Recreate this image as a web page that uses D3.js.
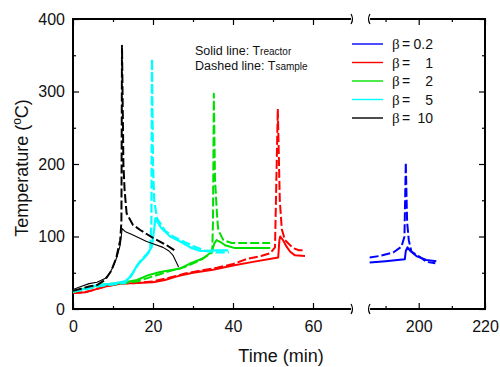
<!DOCTYPE html>
<html>
<head>
<meta charset="utf-8">
<script src="https://cdn.jsdelivr.net/npm/d3@7"></script>
<style>
  body { margin: 0; background: #fff; }
  svg { display: block; font-family: Arial, "Liberation Sans", sans-serif; }
</style>
</head>
<body>
<div id="chart"></div>
<script>
// data: [time (min), temperature (C)]
var b10Reactor = [[0,27],[2,31],[4,35],[6,37],[8,42],[9,48],[10,58],[11,72],[11.8,88],[12.3,111],[13,107],[15,102],[18.4,93],[20,90],[22.5,85],[24,80],[25,74],[26.4,58]];
var b10Sample = [[0,25],[2,28],[4,31],[6,33],[8,40],[9.5,52],[10.8,70],[11.8,95],[12.1,120],[12.25,363],[12.6,200],[12.9,164],[13.4,132],[15,116],[16.8,109],[20,98],[23.4,88],[25.9,79]];
var b5Reactor = [[0,24],[3,28],[6,33],[10,35],[13,38],[14.5,45],[16,60],[18.4,74],[19.7,86],[20.3,110],[20.6,125],[22,112],[24.3,100],[26.8,93],[29.3,85],[31.8,80],[36,81],[38.8,81]];
var b5Sample = [[0,24],[3,27],[6,31],[10,34],[13,36],[15,50],[16.8,66],[18.3,75],[19.3,80],[19.6,120],[19.75,345],[20.0,200],[20.3,150],[21,125],[23,108],[25,100],[28,92],[30,87],[33,80],[36,78],[39,78]];
var b2Reactor = [[0,24],[4,30],[8,34],[12,36],[16,40],[19,47],[21.8,51],[26.8,56],[29,62],[32.6,70],[34.7,79],[35.3,90],[35.9,95],[37,92],[38,88],[40.5,84],[44,84],[49.3,84]];
var b2Sample = [[0,23],[4,29],[8,33],[12,35],[16,38],[20,45],[24,52],[28,58],[32,68],[34.8,78],[35,120],[35.2,297],[35.5,180],[36,130],[36.3,109],[37.6,95],[39.7,91],[44,91],[49.3,91]];
var b1Reactor = [[0,22],[3,23],[5,26],[8,31],[12,35],[16,36],[20,37],[23,40],[26,45],[30,50],[35,54],[40,60],[45,65],[51.3,71],[51.6,95],[51.8,100],[52.5,95],[53.4,86],[54.3,79],[55.5,74],[58,73]];
var b1Sample = [[0,22],[3,23],[5,26],[8,31],[12,35],[16,36],[20,38],[24,43],[28,49],[32,53],[36,57],[40,62],[43.4,69],[47,73],[49.3,77],[50.5,85],[51.2,276],[51.7,150],[52.2,110],[53,95],[55,84],[56.5,81],[58,81]];
var b02Reactor = [[185.2,64],[190,66],[195.8,68.5],[196.1,80],[196.6,85],[197.5,80],[199.3,73],[202.3,67.6],[205.3,66]];
var b02Sample = [[185.2,71],[188,73],[192.3,78],[194.8,86],[195.7,100],[196.1,202],[196.5,120],[197,95],[197.8,79],[200.3,72],[202.3,65],[205,63]];

var betaLabels = ['0.2', '1', '2', '5', '10'];
var betaColors = ['#0000ff', '#ff0000', '#00e000', '#00ffff', '#000000'];
var xMajorLeft = [0, 20, 40, 60], xMinorLeft = [10, 30, 50];
var xMajorRight = [200, 220], xMinorRight = [190, 210];
var yMajor = [0, 100, 200, 300, 400], yMinor = [50, 150, 250, 350];

(function() {
  var W = 500, H = 367;
  var svg = d3.select('#chart').append('svg').attr('width', W).attr('height', H);

  var pLeft = 73, pRight = 485, pTop = 19, pBottom = 309;
  var breakL = 352, breakR = 369;

  // broken time axis: 0-69.75 then 185-220
  var x = d3.scaleLinear().domain([0, 69.75, 185, 220]).range([pLeft, breakL, breakR, pRight]);
  var xL = d3.scaleLinear().domain([0, 69.75]).range([pLeft, breakL]);
  var xR = d3.scaleLinear().domain([185, 220]).range([breakR, pRight]);
  var y = d3.scaleLinear().domain([0, 400]).range([pBottom, pTop]);

  function tickAxis(g, axis) {
    g.call(axis);
    g.select('.domain').remove();
    g.selectAll('.tick line').attr('stroke', '#000').attr('stroke-width', 1.2);
    g.selectAll('.tick text').attr('font-size', '16px').attr('font-family', 'Arial, "Liberation Sans", sans-serif').attr('fill', '#111');
  }
  function at(tx, ty) { return svg.append('g').attr('transform', 'translate(' + tx + ',' + ty + ')'); }

  // bottom ticks + labels
  tickAxis(at(0, pBottom), d3.axisBottom(xL).tickValues(xMajorLeft).tickSizeInner(-6).tickSizeOuter(0).tickPadding(12));
  tickAxis(at(0, pBottom), d3.axisBottom(xL).tickValues(xMinorLeft).tickSizeInner(-3).tickSizeOuter(0).tickFormat(''));
  tickAxis(at(0, pBottom), d3.axisBottom(xR).tickValues(xMajorRight).tickSizeInner(-6).tickSizeOuter(0).tickPadding(12));
  tickAxis(at(0, pBottom), d3.axisBottom(xR).tickValues(xMinorRight).tickSizeInner(-3).tickSizeOuter(0).tickFormat(''));
  // top ticks
  tickAxis(at(0, pTop), d3.axisTop(xL).tickValues(xMajorLeft).tickSizeInner(-6).tickSizeOuter(0).tickFormat(''));
  tickAxis(at(0, pTop), d3.axisTop(xL).tickValues(xMinorLeft).tickSizeInner(-3).tickSizeOuter(0).tickFormat(''));
  tickAxis(at(0, pTop), d3.axisTop(xR).tickValues(xMajorRight).tickSizeInner(-6).tickSizeOuter(0).tickFormat(''));
  tickAxis(at(0, pTop), d3.axisTop(xR).tickValues(xMinorRight).tickSizeInner(-3).tickSizeOuter(0).tickFormat(''));
  // y ticks
  tickAxis(at(pLeft, 0), d3.axisLeft(y).tickValues(yMajor).tickSizeInner(-6).tickSizeOuter(0).tickPadding(8));
  tickAxis(at(pLeft, 0), d3.axisLeft(y).tickValues(yMinor).tickSizeInner(-3).tickSizeOuter(0).tickFormat(''));
  tickAxis(at(pRight, 0), d3.axisRight(y).tickValues(yMajor).tickSizeInner(-6).tickSizeOuter(0).tickFormat(''));
  tickAxis(at(pRight, 0), d3.axisRight(y).tickValues(yMinor).tickSizeInner(-3).tickSizeOuter(0).tickFormat(''));

  // frame with break
  var frame = svg.append('g').attr('stroke', '#000').attr('stroke-width', 2).attr('fill', 'none');
  frame.append('line').attr('x1', pLeft).attr('x2', pLeft).attr('y1', pTop - 1).attr('y2', pBottom + 1);
  frame.append('line').attr('x1', pRight).attr('x2', pRight).attr('y1', pTop - 1).attr('y2', pBottom + 1);
  [pTop, pBottom].forEach(function(yy) {
    frame.append('line').attr('x1', pLeft).attr('x2', breakL - 1).attr('y1', yy).attr('y2', yy);
    frame.append('line').attr('x1', breakR + 1).attr('x2', pRight).attr('y1', yy).attr('y2', yy);
    frame.append('path').attr('stroke-width', 1.2).attr('d', 'M' + (breakL - 1) + ',' + (yy - 5) + ' Q' + (breakL + 2) + ',' + yy + ' ' + (breakL - 1) + ',' + (yy + 5));
    frame.append('path').attr('stroke-width', 1.2).attr('d', 'M' + (breakR + 1) + ',' + (yy - 5) + ' Q' + (breakR - 2) + ',' + yy + ' ' + (breakR + 1) + ',' + (yy + 5));
  });

  // curves
  var line = d3.line().x(function(d) { return x(d[0]); }).y(function(d) { return y(d[1]); });
  var series = [
    { data: b02Reactor, c: 0, dash: null, w: 2 },
    { data: b02Sample, c: 0, dash: '9,3', w: 2 },
    { data: b1Reactor, c: 1, dash: null, w: 2 },
    { data: b1Sample, c: 1, dash: '9,3', w: 2 },
    { data: b2Reactor, c: 2, dash: null, w: 2 },
    { data: b2Sample, c: 2, dash: '9,3', w: 2 },
    { data: b5Reactor, c: 3, dash: null, w: 2.2 },
    { data: b5Sample, c: 3, dash: '9,3', w: 2.2 },
    { data: b10Reactor, c: 4, dash: null, w: 1.1 },
    { data: b10Sample, c: 4, dash: '9,3', w: 2 }
  ];
  svg.append('g').selectAll('path').data(series).join('path')
    .attr('d', function(d) { return line(d.data); })
    .attr('fill', 'none')
    .attr('stroke', function(d) { return betaColors[d.c]; })
    .attr('stroke-width', function(d) { return d.w; })
    .attr('stroke-dasharray', function(d) { return d.dash; })
    .attr('stroke-linejoin', 'round');

  // axis titles
  svg.append('text').attr('x', 281).attr('y', 362).attr('text-anchor', 'middle')
    .attr('font-size', '18px').attr('fill', '#111').text('Time (min)');
  var yt = svg.append('text').attr('transform', 'translate(28,' + ((pTop + pBottom) / 2 + 4) + ') rotate(-90)')
    .attr('text-anchor', 'middle').attr('font-size', '18px').attr('fill', '#111');
  yt.append('tspan').text('Temperature (');
  yt.append('tspan').attr('font-size', '12px').attr('dy', -7).text('o');
  yt.append('tspan').attr('dy', 7).text('C)');

  // annotation
  var ann = svg.append('g').attr('font-size', '12.5px').attr('fill', '#111');
  var a1 = ann.append('text').attr('x', 195).attr('y', 55);
  a1.append('tspan').text('Solid line: T');
  a1.append('tspan').attr('font-size', '10px').text('reactor');
  var a2 = ann.append('text').attr('x', 195).attr('y', 70);
  a2.append('tspan').text('Dashed line: T');
  a2.append('tspan').attr('font-size', '10px').text('sample');

  // legend
  var lg = svg.append('g').selectAll('g').data(betaLabels).join('g')
    .attr('transform', function(d, i) { return 'translate(352,' + (44 + i * 18.5) + ')'; });
  lg.append('line').attr('x1', 0).attr('x2', 31)
    .attr('stroke', function(d, i) { return betaColors[i]; }).attr('stroke-width', 1.4);
  lg.append('text').attr('x', 40).attr('y', 5).attr('font-size', '15px').attr('fill', '#111')
    .attr('font-family', '"Liberation Serif", "Times New Roman", serif').text('\u03b2');
  lg.append('text').attr('x', 50).attr('y', 5).attr('font-size', '14px').attr('fill', '#111').text('=');
  lg.append('text').attr('x', 81).attr('y', 5).attr('text-anchor', 'end').attr('font-size', '14px').attr('fill', '#111')
    .text(function(d) { return d; });
})();
</script>
</body>
</html>
